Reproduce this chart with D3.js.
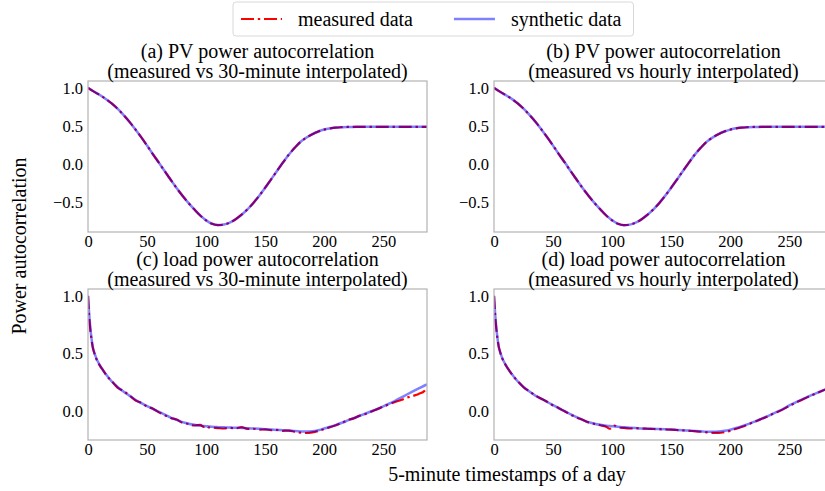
<!DOCTYPE html>
<html><head><meta charset="utf-8">
<script src="https://cdn.jsdelivr.net/npm/d3@7"></script>
<style>
body{margin:0;background:#fff;}
svg{display:block;}
</style>
</head><body>
<svg id="chart" width="825" height="491"></svg>
<script>
// ---------------- data ----------------
const seriesNames = ["measured data", "synthetic data"];
const xTicks = [0, 50, 100, 150, 200, 250];
const pvYTicks = [-0.5, 0.0, 0.5, 1.0];
const loadYTicks = [0.0, 0.5, 1.0];
const xDomain = [0, 287];
const pvYDomain = [-0.898, 1.09];
const loadYDomain = [-0.2495, 1.0595];

const pvLags = [0,5,10,15,20,25,30,35,40,45,50,55,60,65,70,75,80,85,90,95,100,105,110,115,120,125,130,135,140,145,150,155,160,165,170,175,180,185,190,195,200,205,210,215,220,225,230,235,240,245,250,255,260,265,270,275,280,285,287];
const pvMeasured30 = [1.000,0.950,0.905,0.855,0.795,0.725,0.645,0.555,0.455,0.350,0.240,0.125,0.015,-0.100,-0.210,-0.320,-0.420,-0.515,-0.600,-0.680,-0.745,-0.790,-0.808,-0.800,-0.775,-0.730,-0.670,-0.600,-0.515,-0.420,-0.315,-0.205,-0.095,0.015,0.120,0.210,0.290,0.345,0.390,0.425,0.450,0.466,0.477,0.482,0.485,0.486,0.487,0.487,0.487,0.487,0.487,0.487,0.487,0.487,0.487,0.487,0.487,0.487,0.487];
const pvSynthetic30 = [1.000,0.951,0.905,0.854,0.795,0.726,0.645,0.554,0.455,0.351,0.240,0.126,0.015,-0.099,-0.210,-0.319,-0.420,-0.514,-0.600,-0.679,-0.745,-0.789,-0.807,-0.800,-0.774,-0.730,-0.671,-0.600,-0.516,-0.420,-0.316,-0.205,-0.094,0.016,0.120,0.211,0.290,0.346,0.390,0.425,0.451,0.466,0.477,0.482,0.485,0.486,0.487,0.487,0.487,0.487,0.487,0.487,0.487,0.487,0.487,0.487,0.487,0.487,0.487];
const pvMeasuredHourly = [1.000,0.950,0.905,0.855,0.795,0.725,0.645,0.555,0.455,0.350,0.240,0.125,0.015,-0.100,-0.210,-0.320,-0.420,-0.515,-0.600,-0.680,-0.745,-0.790,-0.808,-0.800,-0.775,-0.730,-0.670,-0.600,-0.515,-0.420,-0.315,-0.205,-0.095,0.015,0.120,0.210,0.290,0.345,0.390,0.425,0.450,0.466,0.477,0.482,0.485,0.486,0.487,0.487,0.487,0.487,0.487,0.487,0.487,0.487,0.487,0.487,0.487,0.487,0.487];
const pvSyntheticHourly = [1.000,0.949,0.904,0.855,0.796,0.725,0.644,0.555,0.456,0.350,0.239,0.125,0.016,-0.100,-0.209,-0.320,-0.421,-0.515,-0.599,-0.680,-0.744,-0.790,-0.808,-0.801,-0.775,-0.729,-0.670,-0.601,-0.515,-0.419,-0.315,-0.206,-0.095,0.015,0.121,0.210,0.289,0.345,0.391,0.425,0.450,0.467,0.477,0.482,0.485,0.486,0.487,0.487,0.487,0.487,0.487,0.487,0.487,0.487,0.487,0.487,0.487,0.487,0.487];

const loadLags = [0,1,2,3,4,5,7,10,13,16,20,25,30,35,40,45,50,55,60,65,70,75,80,85,90,95,98,100,102,105,110,115,120,125,130,135,140,145,150,155,160,165,170,175,180,185,190,195,200,205,210,215,220,225,230,235,240,245,250,255,260,265,270,275,280,285,287];
const loadMeasured30 = [1.00,0.82,0.70,0.62,0.555,0.515,0.455,0.395,0.352,0.305,0.262,0.205,0.175,0.138,0.095,0.073,0.040,0.022,-0.010,-0.034,-0.058,-0.072,-0.100,-0.110,-0.124,-0.118,-0.135,-0.127,-0.140,-0.142,-0.146,-0.150,-0.144,-0.149,-0.138,-0.153,-0.152,-0.160,-0.157,-0.165,-0.162,-0.170,-0.168,-0.178,-0.186,-0.189,-0.183,-0.171,-0.155,-0.138,-0.121,-0.100,-0.076,-0.062,-0.038,-0.024,-0.002,0.018,0.040,0.060,0.080,0.097,0.117,0.132,0.150,0.178,0.210];
const loadSynthetic30 = [1.00,0.84,0.72,0.63,0.56,0.52,0.46,0.40,0.35,0.31,0.26,0.21,0.17,0.135,0.10,0.07,0.045,0.02,-0.005,-0.03,-0.055,-0.075,-0.095,-0.108,-0.118,-0.125,-0.128,-0.130,-0.132,-0.135,-0.138,-0.140,-0.142,-0.143,-0.145,-0.147,-0.150,-0.153,-0.156,-0.159,-0.162,-0.165,-0.168,-0.172,-0.175,-0.176,-0.174,-0.165,-0.150,-0.135,-0.118,-0.100,-0.080,-0.060,-0.040,-0.020,0.000,0.020,0.042,0.065,0.090,0.117,0.145,0.172,0.198,0.223,0.232];
const loadMeasuredHourly = [1.00,0.83,0.71,0.625,0.56,0.52,0.458,0.398,0.352,0.308,0.262,0.208,0.172,0.137,0.108,0.082,0.050,0.026,-0.003,-0.030,-0.055,-0.074,-0.097,-0.110,-0.122,-0.135,-0.152,-0.136,-0.124,-0.138,-0.145,-0.150,-0.147,-0.150,-0.152,-0.154,-0.156,-0.158,-0.160,-0.163,-0.166,-0.170,-0.173,-0.178,-0.183,-0.187,-0.188,-0.182,-0.170,-0.152,-0.135,-0.115,-0.094,-0.073,-0.052,-0.028,-0.006,0.018,0.046,0.072,0.096,0.120,0.143,0.165,0.186,0.205,0.212];
const loadSyntheticHourly = [1.00,0.84,0.72,0.63,0.56,0.52,0.46,0.40,0.35,0.31,0.26,0.21,0.17,0.135,0.11,0.08,0.052,0.025,0.000,-0.027,-0.052,-0.075,-0.095,-0.108,-0.118,-0.125,-0.128,-0.130,-0.132,-0.135,-0.140,-0.143,-0.146,-0.149,-0.151,-0.153,-0.155,-0.157,-0.159,-0.162,-0.165,-0.168,-0.171,-0.174,-0.177,-0.178,-0.176,-0.170,-0.160,-0.146,-0.130,-0.112,-0.092,-0.072,-0.050,-0.027,-0.004,0.020,0.050,0.075,0.098,0.122,0.144,0.166,0.187,0.207,0.214];

// ---------------- layout ----------------
const FONT = "'Liberation Serif', 'Times New Roman', serif";
const svg = d3.select("#chart");
const PW = 339, PH = 151;
const redColor = "red", blueColor = "blue";
const lineW = 2.2;
const dash = "13,3.8,2.4,3.8";

const panels = [
  {id:"a", t1:"(a) PV power autocorrelation", t2:"(measured vs 30-minute interpolated)", lags:pvLags, m:pvMeasured30, s:pvSynthetic30, yd:pvYDomain, yt:pvYTicks, left:88, top:81},
  {id:"b", t1:"(b) PV power autocorrelation", t2:"(measured vs hourly interpolated)", lags:pvLags, m:pvMeasuredHourly, s:pvSyntheticHourly, yd:pvYDomain, yt:pvYTicks, left:494, top:81},
  {id:"c", t1:"(c) load power autocorrelation", t2:"(measured vs 30-minute interpolated)", lags:loadLags, m:loadMeasured30, s:loadSynthetic30, yd:loadYDomain, yt:loadYTicks, left:88, top:289},
  {id:"d", t1:"(d) load power autocorrelation", t2:"(measured vs hourly interpolated)", lags:loadLags, m:loadMeasuredHourly, s:loadSyntheticHourly, yd:loadYDomain, yt:loadYTicks, left:494, top:289}
];

const fmt = v => (v < 0 ? "\u2212" : "") + Math.abs(v).toFixed(1);
const defs = svg.append("defs");

panels.forEach(p => {
  const x = d3.scaleLinear().domain(xDomain).range([0, PW]);
  const y = d3.scaleLinear().domain(p.yd).range([PH, 0]);
  const g = svg.append("g").attr("transform", `translate(${p.left},${p.top})`);

  defs.append("clipPath").attr("id", "clip-" + p.id)
    .append("rect").attr("x", 0).attr("y", 0).attr("width", PW).attr("height", PH);

  const line = d3.line().x((d, i) => x(p.lags[i])).y(d => y(d)).curve(d3.curveMonotoneX);
  const plot = g.append("g").attr("clip-path", `url(#clip-${p.id})`);
  plot.append("path").datum(p.m).attr("d", line)
    .attr("fill", "none").attr("stroke", redColor).attr("stroke-width", lineW)
    .attr("stroke-dasharray", dash);
  plot.append("path").datum(p.s).attr("d", line)
    .attr("fill", "none").attr("stroke", blueColor).attr("stroke-opacity", 0.5)
    .attr("stroke-width", lineW + 0.3);

  const xa = g.append("g").attr("transform", `translate(0,${PH})`)
    .call(d3.axisBottom(x).tickValues(xTicks).tickSize(0).tickPadding(3).tickFormat(d3.format("d")));
  const ya = g.append("g")
    .call(d3.axisLeft(y).tickValues(p.yt).tickSize(0).tickPadding(5).tickFormat(fmt));
  [xa, ya].forEach(a => {
    a.attr("font-family", null).attr("font-size", null);
    a.select(".domain").remove();
    a.selectAll("text").style("font-family", FONT).style("font-size", "16.5px").attr("fill", "#000");
  });

  g.append("rect").attr("x", 0).attr("y", 0).attr("width", PW).attr("height", PH)
    .attr("fill", "none").attr("stroke", "#b3b3b3").attr("stroke-width", 1.2);

  g.append("text").attr("x", PW / 2).attr("y", -23).attr("text-anchor", "middle")
    .style("font-family", FONT).style("font-size", "20px").text(p.t1);
  g.append("text").attr("x", PW / 2).attr("y", -3).attr("text-anchor", "middle")
    .style("font-family", FONT).style("font-size", "20px").text(p.t2);
});

svg.append("text").attr("transform", "translate(26,246) rotate(-90)")
  .attr("text-anchor", "middle").style("font-family", FONT).style("font-size", "20px").text("Power autocorrelation");
svg.append("text").attr("x", 507).attr("y", 481)
  .attr("text-anchor", "middle").style("font-family", FONT).style("font-size", "20px").text("5-minute timestamps of a day");

const lg = svg.append("g");
const box = lg.append("rect").attr("y", 2).attr("height", 34).attr("rx", 3)
  .attr("fill", "#fff").attr("stroke", "#d9d9d9").attr("stroke-width", 1);
let cx = 241;
const ly = 19;
let lastEnd = cx;
seriesNames.forEach((name, i) => {
  const l = lg.append("line").attr("x1", cx).attr("x2", cx + 41).attr("y1", ly).attr("y2", ly)
    .attr("stroke-width", lineW);
  if (i === 0) l.attr("stroke", redColor).attr("stroke-dasharray", dash);
  else l.attr("stroke", blueColor).attr("stroke-opacity", 0.5).attr("stroke-width", lineW + 0.3);
  const t = lg.append("text").attr("x", cx + 57).attr("y", 26)
    .style("font-family", FONT).style("font-size", "20px").text(name);
  const w = t.node().getComputedTextLength();
  lastEnd = cx + 57 + w;
  cx = lastEnd + 41;
});
box.attr("x", 233).attr("width", lastEnd + 12 - 233);
</script>
</body></html>
